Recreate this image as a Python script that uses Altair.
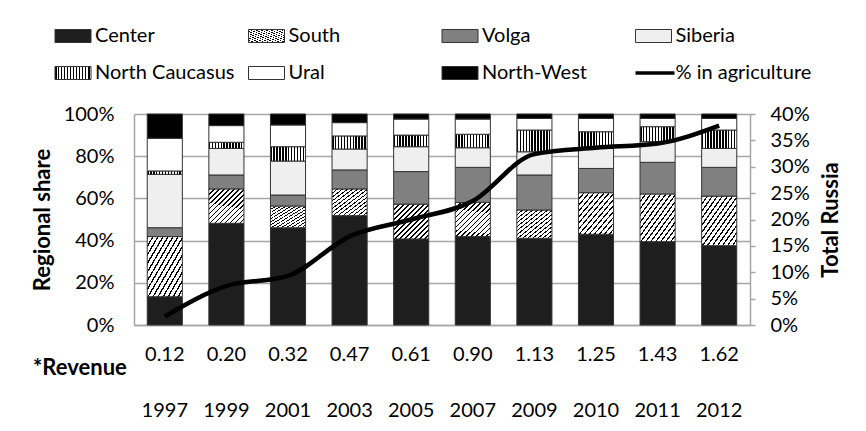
import altair as alt
import pandas as pd

# ---------------- data ----------------
years = ["1997", "1999", "2001", "2003", "2005", "2007", "2009", "2010", "2011", "2012"]
revenue = ["0.12", "0.20", "0.32", "0.47", "0.61", "0.90", "1.13", "1.25", "1.43", "1.62"]

center = [13.4, 48.2, 46.1, 51.8, 40.8, 41.9, 41.1, 43.0, 39.5, 37.6]
south = [28.5, 16.3, 10.3, 12.7, 16.5, 16.2, 13.4, 19.7, 22.6, 23.5]
volga = [4.2, 6.6, 5.2, 9.0, 15.4, 16.6, 16.6, 11.5, 15.0, 13.6]
siberia = [25.3, 12.6, 16.1, 9.9, 11.8, 9.3, 11.0, 9.5, 9.8, 9.0]
north_caucasus = [1.6, 2.9, 6.8, 6.2, 5.5, 6.4, 10.3, 7.9, 7.1, 8.7]
ural = [15.5, 7.9, 10.3, 6.3, 7.6, 7.2, 5.5, 6.3, 3.9, 5.5]
north_west = [11.5, 5.5, 5.2, 4.1, 2.4, 2.4, 2.1, 2.1, 2.1, 2.1]

agri_pct = [1.6, 7.4, 9.3, 16.8, 20.0, 23.5, 32.4, 33.6, 34.4, 37.8]

regions = ["Center", "South", "Volga", "Siberia", "North Caucasus", "Ural", "North-West"]
series = [center, south, volga, siberia, north_caucasus, ural, north_west]

rows = []
for i, (name, vals) in enumerate(zip(regions, series)):
    for yr, v in zip(years, vals):
        rows.append({"year": yr, "region": name, "order": i, "share": v})
bars_df = pd.DataFrame(rows)
line_df = pd.DataFrame({"year": years, "agri": [a / 100 for a in agri_pct], "revenue": revenue})


# ---------------- fills (pattern-like gradients) ----------------
def stripes(n, x2, y2, frac, dark="#000000", light="#ffffff"):
    stops = []
    for k in range(n):
        a = k / n
        b = (k + frac) / n
        c = (k + 1) / n
        stops += [
            {"offset": a, "color": dark},
            {"offset": b, "color": dark},
            {"offset": b, "color": light},
            {"offset": min(c, 1.0), "color": light},
        ]
    return {"gradient": "linear", "x1": 0, "y1": 0, "x2": x2, "y2": y2, "stops": stops}


FILLS = {
    "Center": "#1e1e1e",
    "South": stripes(14, 1, 1, 0.3),
    "Volga": "#808080",
    "Siberia": "#efefef",
    "North Caucasus": stripes(12, 1, 0, 0.5),
    "Ural": "#ffffff",
    "North-West": "#000000",
}

FONT = "Lato"
GRID = "#a6a6a6"
OUTLINE = "#333333"

W, H = 616, 211

x_enc = alt.X(
    "year:N",
    sort=years,
    scale=alt.Scale(paddingInner=0.43, paddingOuter=0.215),
    axis=alt.Axis(
        title=None, labelAngle=0, ticks=False, tickSize=0, labelPadding=85,
        labelBaseline="middle", domainColor=GRID, domainWidth=1.5, grid=False,
        labelFont=FONT, labelFontSize=20, labelColor="#000000",
    ),
)

y_left = alt.Y(
    "lo:Q",
    scale=alt.Scale(domain=[0, 1], nice=False),
    axis=alt.Axis(
        values=[0, 0.2, 0.4, 0.6, 0.8, 1.0], format=".0%", grid=True,
        gridColor=GRID, gridWidth=1.5, ticks=False, tickSize=0,
        domainColor=GRID, domainWidth=1.5, labelPadding=20,
        labelFont=FONT, labelFontSize=20, labelColor="#000000",
        title="Regional share", titleX=-92, titleY=H / 2, titleAngle=270,
        titleAlign="center", titleBaseline="middle",
        titleFont=FONT, titleFontSize=22, titleFontWeight="bold", titleColor="#000000",
    ),
)

base = alt.Chart(bars_df).transform_stack(
    stack="share", groupby=["year"],
    sort=[alt.SortField("order", order="ascending")],
    as_=["lo", "hi"], offset="normalize",
)

layers = []
for name in regions:
    layers.append(
        base.transform_filter(alt.datum.region == name)
        .mark_bar(fill=FILLS[name], stroke=OUTLINE, strokeWidth=1)
        .encode(x=x_enc, y=y_left, y2="hi:Q")
    )

# revenue row
layers.append(
    alt.Chart(line_df).mark_text(fontSize=20, font=FONT, color="#000000", baseline="middle")
    .encode(x=x_enc, y=alt.value(H + 30), text="revenue:N")
)

one = pd.DataFrame({"k": [0]})
layers.append(
    alt.Chart(one).mark_text(fontSize=22, font=FONT, fontWeight="bold", align="left",
                             baseline="middle", color="#000000")
    .encode(x=alt.value(-101), y=alt.value(H + 43), text=alt.value("*Revenue"))
)

# chart-area border (left and top edges)
layers.append(
    alt.Chart(one).mark_rule(color="#8c8c8c", strokeWidth=1.5)
    .encode(x=alt.value(-131), y=alt.value(-109), y2=alt.value(H + 120))
)
layers.append(
    alt.Chart(one).mark_rule(color="#8c8c8c", strokeWidth=1.5)
    .encode(x=alt.value(-131), x2=alt.value(W + 120), y=alt.value(-109))
)

# legend
LEG_X0, LEG_DX = -79, 193.5
LEG_Y = [-78, -41]
SYM_W, SYM_H = 36, 13
legend_items = regions + ["% in agriculture"]
for idx, name in enumerate(legend_items):
    col, row = idx % 4, idx // 4
    sx = LEG_X0 + col * LEG_DX
    sy = LEG_Y[row]
    ldf = pd.DataFrame({"label": [name]})
    if name in FILLS:
        layers.append(
            alt.Chart(ldf).mark_rect(fill=FILLS[name], stroke=OUTLINE, strokeWidth=1)
            .encode(x=alt.value(sx), x2=alt.value(sx + SYM_W),
                    y=alt.value(sy - SYM_H / 2), y2=alt.value(sy + SYM_H / 2))
        )
    else:
        layers.append(
            alt.Chart(ldf).mark_rule(color="#000000", strokeWidth=3.5)
            .encode(x=alt.value(sx), x2=alt.value(sx + SYM_W + 3), y=alt.value(sy))
        )
    layers.append(
        alt.Chart(ldf).mark_text(fontSize=20, font=FONT, align="left", baseline="middle",
                                 color="#000000")
        .encode(x=alt.value(sx + SYM_W + 4), y=alt.value(sy), text="label:N")
    )

bars_group = alt.layer(*layers)

line = alt.Chart(line_df).mark_line(color="#000000", strokeWidth=4.5, interpolate="monotone").encode(
    x=x_enc,
    y=alt.Y(
        "agri:Q",
        scale=alt.Scale(domain=[0, 0.4], nice=False),
        axis=alt.Axis(
            orient="right", values=[0, 0.05, 0.1, 0.15, 0.2, 0.25, 0.3, 0.35, 0.4],
            format=".0%", grid=False, ticks=True, tickSize=5, tickColor=GRID,
            tickWidth=1.5, domainColor=GRID, domainWidth=1.5, labelPadding=15,
            labelFont=FONT, labelFontSize=20, labelColor="#000000",
            title="Total Russia", titleX=80, titleY=H / 2, titleAngle=270,
            titleAlign="center", titleBaseline="middle",
            titleFont=FONT, titleFontSize=22, titleFontWeight="bold", titleColor="#000000",
        ),
    ),
)

chart = (
    alt.layer(bars_group, line)
    .resolve_scale(y="independent")
    .properties(
        width=W, height=H,
        autosize=alt.AutoSizeParams(type="none"),
        padding={"left": 126, "top": 106, "right": 108, "bottom": 98},
        background="#ffffff",
    )
    .configure_view(stroke=None)
)

chart.save("out.html", embed_options={"renderer": "svg", "actions": False})
